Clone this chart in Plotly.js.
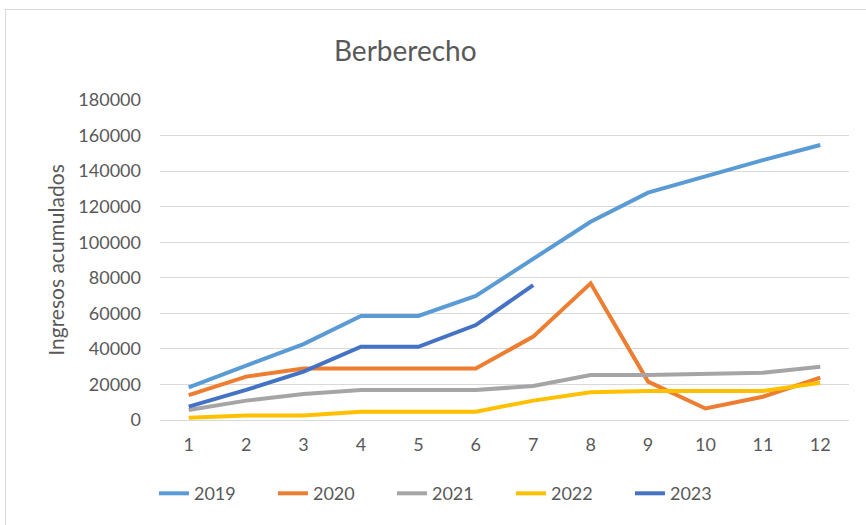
<!DOCTYPE html>
<html>
<head>
<meta charset="utf-8">
<script src="https://cdn.plot.ly/plotly-3.0.1.min.js"></script>
<style>
  html, body { margin: 0; padding: 0; background: #fff; overflow: hidden; }
  #frame { position: absolute; left: 5px; top: 9px; width: 900px; height: 560px; border: 1px solid #d9d9d9; }
  #chart { position: absolute; left: 0; top: 0; width: 866px; height: 525px; }
</style>
</head>
<body>
<div id="frame"></div>
<div id="chart"></div>
<script>
/* ---- Data ---- */
const months = [1, 2, 3, 4, 5, 6, 7, 8, 9, 10, 11, 12];
const y2019 = [18400, 30400, 42700, 58500, 58500, 69800, 90900, 111500, 127900, 137200, 146200, 154700];
const y2020 = [14000, 24400, 29000, 29000, 29000, 29000, 46900, 76900, 21600, 6500, 13100, 23800];
const y2021 = [5600, 10900, 14600, 16900, 16900, 16900, 19100, 25300, 25300, 25900, 26600, 30000];
const y2022 = [1300, 2600, 2600, 4700, 4700, 4700, 10900, 15600, 16300, 16300, 16300, 21000];
const y2023 = [7500, 16900, 27200, 41200, 41200, 53400, 75900];

const series = [
  { name: '2019', y: y2019, c: '#5B9BD5' },
  { name: '2020', y: y2020, c: '#ED7D31' },
  { name: '2021', y: y2021, c: '#A5A5A5' },
  { name: '2022', y: y2022, c: '#FFC000' },
  { name: '2023', y: y2023, c: '#4472C4' },
];

const FONT = 'Lato, "Open Sans", sans-serif';
const TXT = '#595959';

const traces = series.map(s => ({
  x: months.slice(0, s.y.length).map(String),
  y: s.y,
  type: 'scatter',
  mode: 'lines',
  name: s.name,
  line: { color: s.c, width: 4 },
}));

const layout = {
  width: 866, height: 525,
  paper_bgcolor: 'rgba(0,0,0,0)',
  plot_bgcolor: 'rgba(0,0,0,0)',
  font: { family: FONT, size: 18, color: TXT },
  margin: { l: 160, r: 17, t: 100, b: 105 },
  title: { text: 'Berberecho', x: 0.468, xanchor: 'center', y: 0.903, yanchor: 'middle', font: { size: 28, color: TXT } },
  xaxis: {
    type: 'category',
    range: [-0.5, 11.5],
    showgrid: false,
    zeroline: false,
    showline: false,
    ticks: '',
    ticklabelstandoff: 12,
    tickfont: { size: 18, color: TXT },
  },
  yaxis: {
    range: [0, 180000],
    dtick: 20000,
    tickformat: 'd',
    gridcolor: '#d9d9d9',
    gridwidth: 1,
    zeroline: true,
    zerolinecolor: '#d9d9d9',
    zerolinewidth: 1,
    ticks: '',
    ticklabelstandoff: 18,
    tickfont: { size: 18, color: TXT },
    title: { text: 'Ingresos acumulados', standoff: 8, font: { size: 21, color: TXT } },
  },
  legend: {
    orientation: 'h',
    x: 0.423, xanchor: 'center',
    y: -0.23, yanchor: 'middle',
    font: { size: 18, color: TXT },
    itemwidth: 30,
    entrywidth: 74,
    traceorder: 'normal',
  },
  showlegend: true,
};

Plotly.newPlot('chart', traces, layout, { displayModeBar: false, staticPlot: true });
</script>
</body>
</html>
